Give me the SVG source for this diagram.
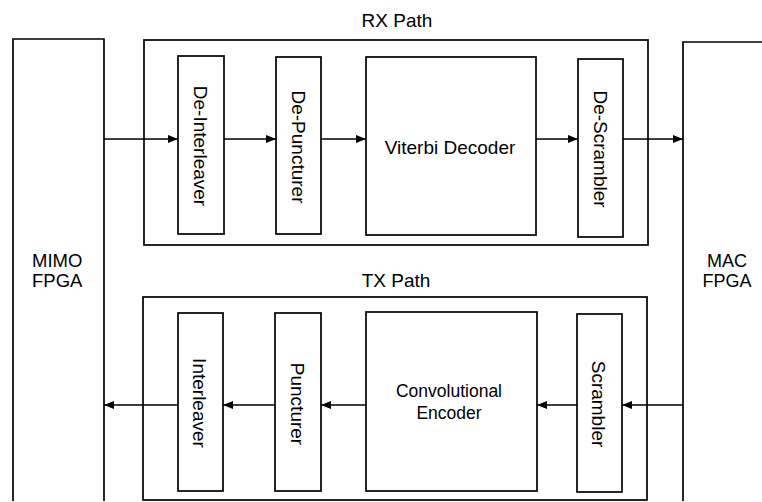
<svg xmlns="http://www.w3.org/2000/svg" width="762" height="502" viewBox="0 0 762 502">
<style>
.box{fill:none;stroke:#000;stroke-width:1.7}
.con{fill:none;stroke:#000;stroke-width:1.5}
text{font-family:"Liberation Sans",Arial,sans-serif;fill:#000;font-size:19px}
.c{text-anchor:middle}
</style>
<defs>
<marker id="arr" viewBox="0 0 10 8" refX="10" refY="4" markerWidth="10" markerHeight="8" markerUnits="userSpaceOnUse" orient="auto">
<path d="M0,0 L10,4 L0,8 z" fill="#000"/>
</marker>
</defs>
<rect width="762" height="502" fill="#fff"/>
<g id="mimo">
<path class="box" d="M13,501 V39 H104 V501"/>
<text x="32" y="267" style="font-size:18.5px">MIMO</text>
<text x="32" y="287" style="font-size:18.5px">FPGA</text>
</g>
<g id="mac">
<path class="box" d="M683,501 V42 H763"/>
<text class="c" x="727" y="267" style="font-size:18px">MAC</text>
<text class="c" x="727" y="287" style="font-size:18px">FPGA</text>
</g>
<g id="rxpath">
<rect class="box" x="144" y="40" width="504" height="205"/>
<text class="c" x="397" y="27">RX Path</text>
</g>
<g id="deinterleaver">
<rect class="box" x="178" y="56" width="46" height="178"/>
<text class="c" transform="translate(193.5,146) rotate(90)">De-Interleaver</text>
</g>
<g id="depuncturer">
<rect class="box" x="276" y="57" width="45" height="177"/>
<text class="c" transform="translate(291.5,147) rotate(90)">De-Puncturer</text>
</g>
<g id="viterbi">
<rect class="box" x="366" y="57" width="170" height="178"/>
<text class="c" x="450" y="154">Viterbi Decoder</text>
</g>
<g id="descrambler">
<rect class="box" x="578" y="59" width="45" height="178"/>
<text class="c" transform="translate(593.5,149) rotate(90)">De-Scrambler</text>
</g>
<g id="txpath">
<rect class="box" x="143" y="297" width="504" height="203"/>
<text class="c" x="396" y="287">TX Path</text>
</g>
<g id="interleaver">
<rect class="box" x="178" y="313" width="45" height="178"/>
<text class="c" transform="translate(193,403) rotate(90)">Interleaver</text>
</g>
<g id="puncturer">
<rect class="box" x="275" y="313" width="46" height="178"/>
<text class="c" transform="translate(291,404) rotate(90)">Puncturer</text>
</g>
<g id="convenc">
<rect class="box" x="366" y="312" width="171" height="179"/>
<text class="c" x="449" y="397" style="font-size:17.5px">Convolutional</text>
<text class="c" x="449" y="419" style="font-size:17.5px">Encoder</text>
</g>
<g id="scrambler">
<rect class="box" x="577" y="314" width="45" height="178"/>
<text class="c" transform="translate(592,404) rotate(90)">Scrambler</text>
</g>
<g id="connectors">
<line class="con" x1="104" y1="139" x2="178" y2="139" marker-end="url(#arr)"/>
<line class="con" x1="224" y1="139" x2="276" y2="139" marker-end="url(#arr)"/>
<line class="con" x1="321" y1="139" x2="366" y2="139" marker-end="url(#arr)"/>
<line class="con" x1="536" y1="139" x2="578" y2="139" marker-end="url(#arr)"/>
<line class="con" x1="623" y1="139" x2="683" y2="139" marker-end="url(#arr)"/>
<line class="con" x1="683" y1="405" x2="622" y2="405" marker-end="url(#arr)"/>
<line class="con" x1="577" y1="405" x2="537" y2="405" marker-end="url(#arr)"/>
<line class="con" x1="366" y1="405" x2="321" y2="405" marker-end="url(#arr)"/>
<line class="con" x1="275" y1="405" x2="223" y2="405" marker-end="url(#arr)"/>
<line class="con" x1="178" y1="405" x2="104" y2="405" marker-end="url(#arr)"/>
</g>
</svg>
